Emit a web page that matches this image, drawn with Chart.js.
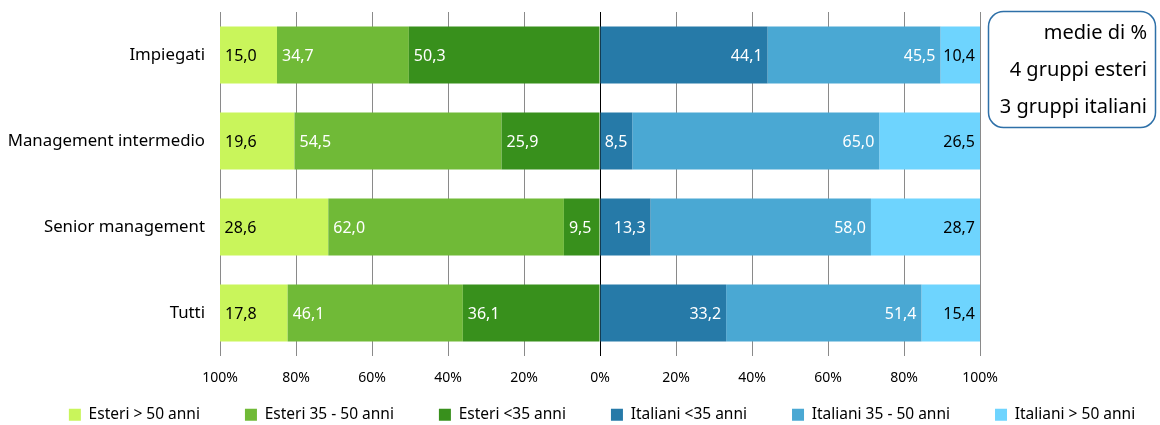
<!DOCTYPE html>
<html>
<head>
<meta charset="utf-8">
<script src="https://cdn.jsdelivr.net/npm/chart.js@4.4.1/dist/chart.umd.min.js"></script>
<style>
  html, body { margin: 0; padding: 0; background: #fff; }
  #wrap { width: 1160px; height: 425px; }
</style>
</head>
<body>
<div id="wrap"><canvas id="chart" width="1160" height="425"></canvas></div>
<script>
// categorie e valori (% medie)
const categories = ["Impiegati", "Management intermedio", "Senior management", "Tutti"];
const esteriOver50 = [15.0, 19.6, 28.6, 17.8];
const esteri35to50 = [34.7, 54.5, 62.0, 46.1];
const esteriUnder35 = [50.3, 25.9, 9.5, 36.1];
const italianiUnder35 = [44.1, 8.5, 13.3, 33.2];
const italiani35to50 = [45.5, 65.0, 58.0, 51.4];
const italianiOver50 = [10.4, 26.5, 28.7, 15.4];
const xTicks = [-100, -80, -60, -40, -20, 0, 20, 40, 60, 80, 100];
const noteLines = ["medie di %", "4 gruppi esteri", "3 gruppi italiani"];

const FONT = "'Noto Sans', sans-serif";
const neg = arr => arr.map(v => -v);

// etichette dentro le barre, allineate sul lato esterno
const barLabels = {
    id: "barLabels",
    afterDatasetsDraw(chart) {
        const ctx = chart.ctx;
        ctx.save();
        ctx.font = "16px " + FONT;
        ctx.textBaseline = "middle";
        chart.data.datasets.forEach((ds, i) => {
            const meta = chart.getDatasetMeta(i);
            if (meta.hidden) return;
            meta.data.forEach((bar, j) => {
                const v = ds.data[j];
                const txt = Math.abs(v).toFixed(1).replace(".", ",");
                ctx.fillStyle = ds.labelColor;
                if (v < 0) {
                    ctx.textAlign = "left";
                    ctx.fillText(txt, bar.x + 5, bar.y + 1);
                } else {
                    ctx.textAlign = "right";
                    ctx.fillText(txt, bar.x - 5, bar.y + 1);
                }
            });
        });
        ctx.restore();
    }
};

// legenda un po' più in alto e più a destra
const legendShift = {
    id: "legendShift",
    afterLayout(chart) {
        const lg = chart.legend;
        if (!lg) return;
        const h = lg.bottom - lg.top;
        lg.top = 362;
        lg.bottom = 362 + h;
        lg.left += 22;
        lg.right += 22;
    }
};

// riquadro note in alto a destra
const noteBox = {
    id: "noteBox",
    afterDraw(chart) {
        const ctx = chart.ctx;
        ctx.save();
        ctx.strokeStyle = "#2E70A8";
        ctx.lineWidth = 1.5;
        ctx.beginPath();
        ctx.roundRect(988.5, 11.5, 167, 116, 15);
        ctx.stroke();
        ctx.fillStyle = "#000";
        ctx.font = "20px " + FONT;
        ctx.textAlign = "right";
        ctx.textBaseline = "middle";
        noteLines.forEach((t, i) => ctx.fillText(t, 1147, 33 + i * 37));
        ctx.restore();
    }
};

const datasets = [
    { label: "Esteri > 50 anni", data: neg(esteriOver50), backgroundColor: "#C9F55B", labelColor: "#000", order: 4 },
    { label: "Esteri 35 - 50 anni", data: neg(esteri35to50), backgroundColor: "#70BA37", labelColor: "#fff", order: 2 },
    { label: "Esteri <35 anni", data: neg(esteriUnder35), backgroundColor: "#38901C", labelColor: "#fff", order: 0 },
    { label: "Italiani <35 anni", data: italianiUnder35, backgroundColor: "#267AA8", labelColor: "#fff", order: 1 },
    { label: "Italiani 35 - 50 anni", data: italiani35to50, backgroundColor: "#4AA8D3", labelColor: "#fff", order: 3 },
    { label: "Italiani > 50 anni", data: italianiOver50, backgroundColor: "#6ED4FE", labelColor: "#000", order: 5 }
];

new Chart(document.getElementById("chart"), {
    type: "bar",
    data: { labels: categories, datasets: datasets },
    options: {
        indexAxis: "y",
        responsive: false,
        animation: false,
        datasets: { bar: { barPercentage: 0.663, categoryPercentage: 1, borderWidth: 0 } },
        layout: { padding: { top: 12, right: 0, bottom: -32.5, left: 0 } },
        plugins: {
            tooltip: { enabled: false },
            legend: {
                position: "bottom",
                labels: {
                    boxWidth: 12, boxHeight: 12, padding: 45,
                    color: "#000", font: { family: FONT, size: 15.5 },
                    sort: (a, b) => a.datasetIndex - b.datasetIndex
                }
            }
        },
        scales: {
            x: {
                stacked: true,
                min: -100, max: 100,
                afterBuildTicks: s => { s.ticks = xTicks.map(v => ({ value: v })); },
                afterFit: s => { s.height = 31; },
                border: { display: false },
                grid: {
                    drawTicks: false,
                    color: c => (c.tick && c.tick.value === 0) ? "#000" : "#8a8a8a"
                },
                ticks: {
                    padding: 14,
                    color: "#000",
                    font: { family: FONT, size: 14 },
                    callback: v => Math.abs(v) + "%"
                }
            },
            y: {
                stacked: true,
                afterFit: s => { s.width = 220; s.paddingTop = 0; s.paddingBottom = 0; },
                border: { display: false },
                grid: { display: false },
                ticks: { padding: 7, color: "#000", font: { family: FONT, size: 16.8 } }
            },
            // spazio vuoto a destra per il riquadro delle note
            yRight: {
                axis: "y",
                type: "linear",
                position: "right",
                afterFit: s => { s.width = 180; s.paddingTop = 0; s.paddingBottom = 0; },
                border: { display: false },
                grid: { display: false },
                ticks: { display: false }
            }
        }
    },
    plugins: [barLabels, legendShift, noteBox]
});
</script>
</body>
</html>
